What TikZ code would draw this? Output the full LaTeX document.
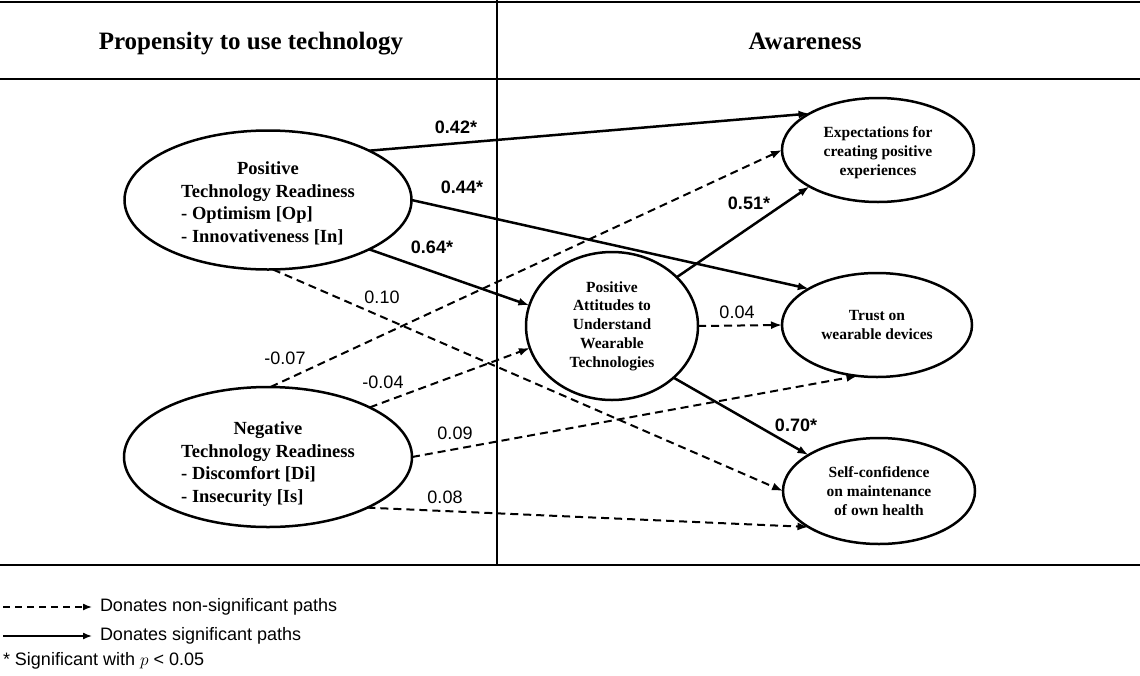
\documentclass[tikz,border=0pt]{standalone}
\usepackage{fontspec}
\setmainfont{Liberation Serif}
\newfontfamily\arialfont{Liberation Sans}
\usetikzlibrary{shapes.geometric,arrows.meta}

\begin{document}
\begin{tikzpicture}[x=1pt,y=-1pt,
  every node/.style={inner sep=0pt,outer sep=0pt},
  construct/.style={ellipse,draw,line width=2.5pt,
    font=\bfseries\fontsize{18.5}{22.5}\selectfont},
  outcome/.style={ellipse,draw,line width=2.5pt,align=center,
    font=\bfseries\fontsize{15.5}{18.8}\selectfont},
  header/.style={font=\bfseries\fontsize{25}{29}\selectfont,anchor=base},
  coef/.style={font=\arialfont\fontsize{18}{20}\selectfont},
  sigcoef/.style={font=\arialfont\bfseries\fontsize{18}{20}\selectfont},
  sig/.style={line width=2.5pt,-{Latex[length=11pt,width=8pt]}},
  nonsig/.style={line width=2pt,dash pattern=on 8pt off 5pt,
    -{Latex[length=11pt,width=8pt]}},
  legendtext/.style={font=\arialfont\fontsize{18}{20}\selectfont,anchor=west},
  rule/.style={line width=2pt}
]
\useasboundingbox (0,0) rectangle (1140,675);

% table frame
\draw[rule] (0,2) -- (1140,2);
\draw[line width=2.6pt] (0,79) -- (1140,79);
\draw[rule] (0,565) -- (1140,565);
\draw[line width=1.5pt] (497,0) -- (497,565);

\node[header] (hprop) at (251,49) {Propensity to use technology};
\node[header] (haware) at (805,49) {Awareness};

% latent constructs (the negative skip at the end lowers the text a little)
\node[construct,minimum width=287,minimum height=139] (ptr) at (268,200)
  {\begin{tabular}{@{}l@{}}
   \multicolumn{1}{@{}c@{}}{Positive}\\
   Technology Readiness\\
   - Optimism [Op]\\
   - Innovativeness [In]\\
   \noalign{\vskip-8pt}
   \end{tabular}};
\node[construct,minimum width=288,minimum height=140] (ntr) at (268,457)
  {\begin{tabular}{@{}l@{}}
   \multicolumn{1}{@{}c@{}}{Negative}\\
   Technology Readiness\\
   - Discomfort [Di]\\
   - Insecurity [Is]\\
   \noalign{\vskip-14pt}
   \end{tabular}};
\node[outcome,minimum width=172,minimum height=148,
  font=\bfseries\fontsize{15.5}{18.7}\selectfont] (pa) at (612,326)
  {Positive\\Attitudes to\\Understand\\Wearable\\Technologies};
\node[outcome,minimum width=192,minimum height=104] (exp) at (878,150)
  {\begin{tabular}{@{}c@{}}
   Expectations for\\creating positive\\experiences\\
   \noalign{\vskip-6pt}
   \end{tabular}};
\node[outcome,minimum width=190,minimum height=104] (tru) at (877,325)
  {Trust on\\wearable devices};
\node[outcome,minimum width=192,minimum height=106] (sc) at (879,491)
  {Self-confidence\\on maintenance\\of own health};

% structural paths
\draw[sig] (ptr.26) -- (exp.152);
\draw[sig] (ptr.east) -- (tru.152);
\draw[sig] (ptr.-26) -- (pa.166);
\draw[nonsig] (ptr.-86) -- (sc.180);
\draw[nonsig] (ntr.88) -- (exp.180);
\draw[nonsig] (ntr.26) -- (pa.195);
\draw[nonsig] (ntr.east) -- (tru.249);
\draw[nonsig] (ntr.-27) -- (sc.207);
\draw[sig] (pa.37) -- (exp.208);
\draw[nonsig] (pa.east) -- (tru.west);
\draw[sig] (pa.-40) -- (sc.153);

% path coefficients
\node[sigcoef] (c1) at (456,127) {0.42*};
\node[sigcoef] (c2) at (462,187) {0.44*};
\node[sigcoef] (c3) at (432,247) {0.64*};
\node[coef] (c4) at (382,297) {0.10};
\node[coef] (c5) at (285,358) {-0.07};
\node[coef] (c6) at (383,382) {-0.04};
\node[coef] (c7) at (455,433) {0.09};
\node[coef] (c8) at (445,497) {0.08};
\node[sigcoef] (c9) at (749,203) {0.51*};
\node[coef] (c10) at (737,312) {0.04};
\node[sigcoef] (c11) at (796,425) {0.70*};

% legend
\coordinate (ld) at (3,607);
\coordinate (ls) at (3,636);
\node[legendtext] (lnd) at (100,607) {Donates non-significant paths};
\node[legendtext] (lsd) at (100,636) {Donates significant paths};
\node[legendtext] (lst) at (3,661) {* Significant with $p$ < 0.05};
\draw[line width=1.5pt,dash pattern=on 7pt off 5pt,
  -{Latex[length=9pt,width=7pt]}] (ld) -- ([xshift=-8pt]lnd.west);
\draw[line width=1.5pt,-{Latex[length=9pt,width=7pt]}] (ls) -- ([xshift=-8pt]lsd.west);
\end{tikzpicture}
\end{document}
